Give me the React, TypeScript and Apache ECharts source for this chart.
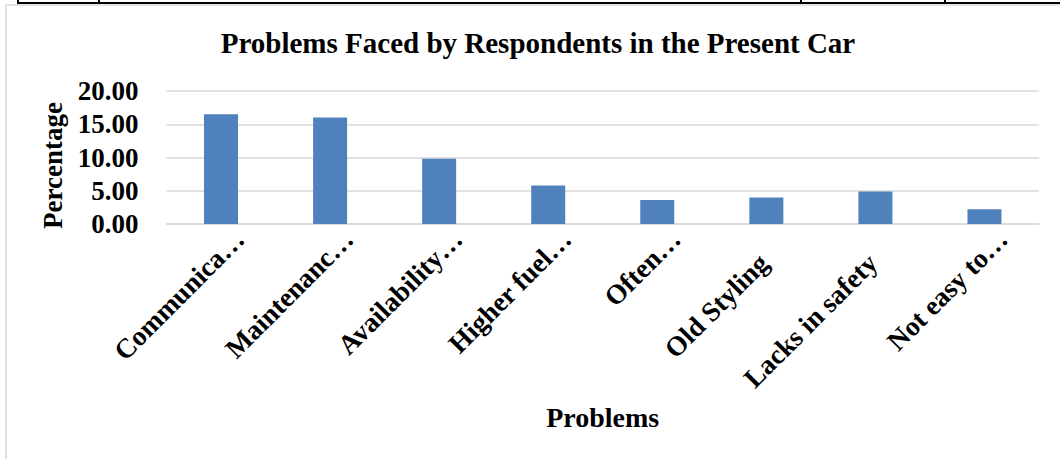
import React, { useEffect, useRef } from "react";
import * as echarts from "echarts";

// Category labels as they appear on the axis (long names are cut with an ellipsis)
const problems = [
  "Communica…",
  "Maintenanc…",
  "Availability…",
  "Higher fuel…",
  "Often…",
  "Old Styling",
  "Lacks in safety",
  "Not easy to…",
];
// Share of respondents (%) for each problem
const percentages = [16.5, 16.0, 9.8, 5.8, 3.6, 4.0, 4.9, 2.2];
// Labels that are shown in full rather than cut short
const fullLabels = ["Old Styling", "Lacks in safety"];

const FONT = "'Liberation Serif', 'Times New Roman', serif";

export default function App() {
  const ref = useRef<HTMLDivElement>(null);

  useEffect(() => {
    if (!ref.current) return;
    const chart = echarts.init(ref.current, undefined, { renderer: "svg" });
    chart.setOption({
      animation: false,
      backgroundColor: "#ffffff",
      title: {
        text: "Problems Faced by Respondents in the Present Car",
        left: 533,
        top: 23,
        textAlign: "center",
        textStyle: {
          fontFamily: FONT,
          fontWeight: "bold",
          fontSize: 29,
          color: "#000000",
        },
      },
      grid: { left: 166.5, right: 21, top: 91, bottom: 235 },
      xAxis: {
        type: "category",
        data: problems,
        name: "Problems",
        nameLocation: "middle",
        nameGap: 179,
        nameTextStyle: {
          fontFamily: FONT,
          fontWeight: "bold",
          fontSize: 28,
          color: "#000000",
        },
        axisLine: { lineStyle: { color: "#d9d9d9", width: 1.5 } },
        axisTick: { show: false },
        axisLabel: {
          interval: 0,
          rotate: 45,
          align: "right",
          verticalAlign: "top",
          lineHeight: 53,
          margin: -8,
          fontFamily: FONT,
          fontWeight: "bold",
          fontSize: 27.5,
          color: "#000000",
          formatter: (v: string) =>
            fullLabels.includes(v) ? `{f|${v}}` : `{t|${v}}`,
          rich: {
            t: {
              fontFamily: FONT,
              fontWeight: "bold",
              fontSize: 27.5,
              lineHeight: 53,
              color: "#000000",
            },
            f: {
              fontFamily: FONT,
              fontWeight: "bold",
              fontSize: 27.5,
              lineHeight: 53,
              color: "#000000",
              padding: [4, 32, 0, 0],
            },
          },
        },
      },
      yAxis: {
        type: "value",
        min: 0,
        max: 20,
        interval: 5,
        name: "Percentage",
        nameLocation: "middle",
        nameGap: 100,
        nameTextStyle: {
          fontFamily: FONT,
          fontWeight: "bold",
          fontSize: 27,
          color: "#000000",
          padding: [0, 16, 0, 0],
        },
        axisLine: { show: false },
        axisTick: { show: false },
        splitLine: { lineStyle: { color: "#d9d9d9", width: 1.5 } },
        axisLabel: {
          margin: 28,
          fontFamily: FONT,
          fontWeight: "bold",
          fontSize: 27,
          color: "#000000",
          formatter: (v: number) => v.toFixed(2),
        },
      },
      series: [
        {
          type: "bar",
          data: percentages,
          barWidth: 34,
          itemStyle: { color: "#4f81bd" },
        },
      ],
      graphic: [
        // frame around the chart area
        {
          type: "rect",
          shape: { x: 6, y: 5, width: 1200, height: 600 },
          style: { fill: "none", stroke: "#d9d9d9", lineWidth: 1.5 },
          silent: true,
        },
        // table rule above the chart
        {
          type: "line",
          shape: { x1: 18, y1: 3, x2: 1060, y2: 3 },
          style: { stroke: "#000000", lineWidth: 2 },
        },
        {
          type: "line",
          shape: { x1: 18, y1: 0, x2: 18, y2: 4 },
          style: { stroke: "#000000", lineWidth: 2 },
        },
        {
          type: "line",
          shape: { x1: 99, y1: 0, x2: 99, y2: 4 },
          style: { stroke: "#000000", lineWidth: 2 },
        },
        {
          type: "line",
          shape: { x1: 801, y1: 0, x2: 801, y2: 4 },
          style: { stroke: "#000000", lineWidth: 2 },
        },
        {
          type: "line",
          shape: { x1: 945, y1: 0, x2: 945, y2: 4 },
          style: { stroke: "#000000", lineWidth: 2 },
        },
      ],
    });
    return () => chart.dispose();
  }, []);

  return (
    <div
      ref={ref}
      style={{ position: "fixed", left: 0, top: 0, width: 1060, height: 459 }}
    />
  );
}
